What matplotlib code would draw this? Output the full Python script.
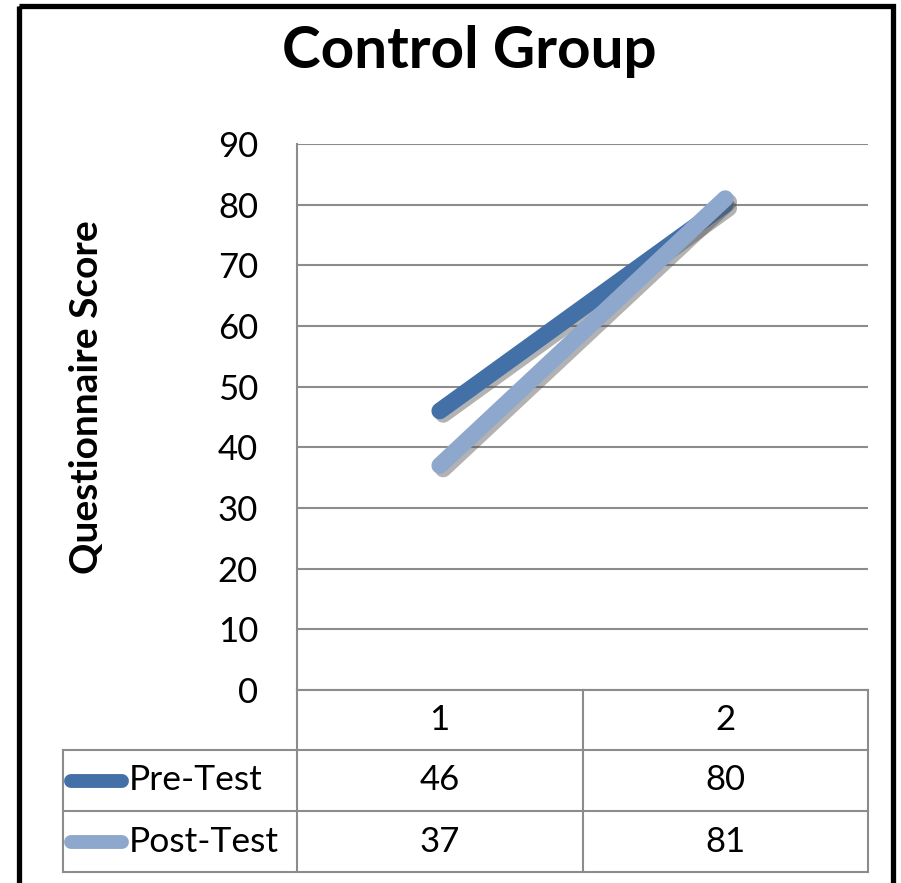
import matplotlib
matplotlib.use("Agg")
import matplotlib.pyplot as plt
import matplotlib.patheffects as pe
from matplotlib.transforms import blended_transform_factory
from matplotlib.patches import Rectangle

plt.rcParams['font.family'] = ['Lato', 'DejaVu Sans']

# data
categories = [1, 2]
series_names = ["Pre-Test", "Post-Test"]
pre_test = [46, 80]
post_test = [37, 81]
series_values = [pre_test, post_test]
series_colors = ["#4370a6", "#8ea7cc"]
yticks = list(range(0, 91, 10))

W, H = 901, 883
fig = plt.figure(figsize=(W / 100, H / 100), dpi=100)

# overlay in pixel coords for frame and table
ov = fig.add_axes([0, 0, 1, 1], zorder=0)
ov.set_xlim(0, W)
ov.set_ylim(H, 0)
ov.axis("off")

# main plot area (pixels: x 297..868, y 144..690)
ax = fig.add_axes([297 / W, 1 - 690 / H, (868 - 297) / W, (690 - 144) / H], zorder=2)
ax.patch.set_alpha(0)
ax.set_xlim(0.5, 2.5)
ax.set_ylim(0, 90)
ax.set_yticks(yticks)
ax.set_xticks([])
ax.tick_params(axis="y", length=0, pad=28, labelsize=25)
for s in ["top", "right", "bottom"]:
    ax.spines[s].set_visible(False)
ax.spines["left"].set_color("#8c8c8c")
ax.spines["left"].set_linewidth(1.5)
ax.yaxis.grid(True, color="#8c8c8c", linewidth=1.5)
ax.set_axisbelow(True)

shadow = [pe.SimpleLineShadow(offset=(2.5, -2.5), shadow_color="#555555", alpha=0.45),
          pe.Normal()]
for vals, col in zip(series_values, series_colors):
    ax.plot(categories, vals, color=col, linewidth=12, solid_capstyle="round",
            path_effects=shadow, zorder=3)

ax.set_ylabel("Questionnaire Score", fontsize=28, fontweight="bold")
ax.yaxis.set_label_coords(-0.368, 0.537)
ax.yaxis.label.set_va("center")
fig.text(469 / W, 1 - 52 / H, "Control Group", ha="center", va="center",
         fontsize=42, fontweight="bold")

# data table below the plot
tr = blended_transform_factory(ax.transData, ov.transData)
gray = "#8c8c8c"
row_y = [690, 750, 811, 872]
x_left_px = 63
# horizontal lines
ov.plot([297, 868], [row_y[0]] * 2, color=gray, lw=1.5)
for y in row_y[1:]:
    ov.plot([x_left_px, 868], [y, y], color=gray, lw=1.5)
# vertical lines
ov.plot([297, 297], [690, 872], color=gray, lw=1.5)
ov.plot([x_left_px, x_left_px], [750, 872], color=gray, lw=1.5)
ov.plot([1.5, 1.5], [690, 872], color=gray, lw=1.5, transform=tr)
ov.plot([2.5, 2.5], [690, 872], color=gray, lw=1.5, transform=tr)

for c in categories:
    ov.text(c, (row_y[0] + row_y[1]) / 2, str(c), transform=tr,
            ha="center", va="center", fontsize=25)
for i, (name, vals, col) in enumerate(zip(series_names, series_values, series_colors)):
    yc = (row_y[i + 1] + row_y[i + 2]) / 2
    ov.plot([71, 122], [yc, yc], color=col, lw=10, solid_capstyle="round")
    ov.text(129, yc, name, ha="left", va="center", fontsize=25.5)
    for c, v in zip(categories, vals):
        ov.text(c, yc, str(v), transform=tr, ha="center", va="center", fontsize=25)

# outer chart frame
ov.add_patch(Rectangle((19, 6), 874, 900, fill=False, edgecolor="black",
                       linewidth=3.8, clip_on=False))

fig.savefig("out.png", dpi=100)
